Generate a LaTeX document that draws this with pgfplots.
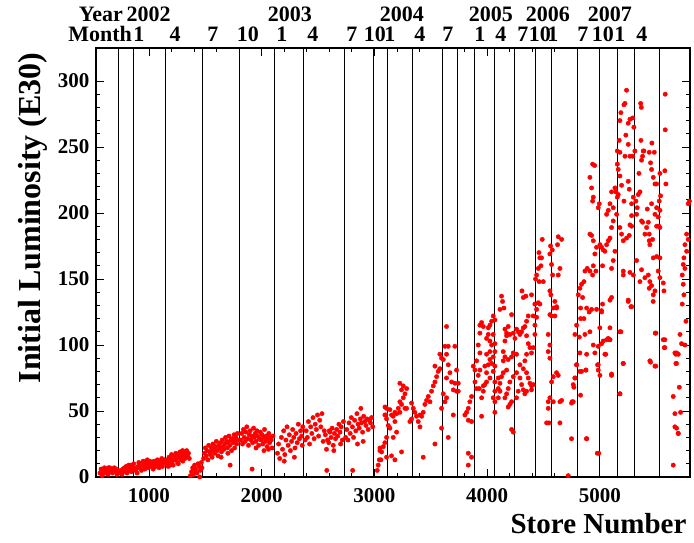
\documentclass[border=0pt]{standalone}
\usepackage{fontspec}
\setmainfont{Liberation Serif}
\usepackage{pgfplots}
\pgfplotsset{compat=1.18}

\newcommand{\tickfont}{\fontsize{21}{22}\selectfont\bfseries}
\newcommand{\toplab}{\fontsize{22}{22}\selectfont\bfseries}

\begin{document}
\begin{tikzpicture}
\begin{axis}[
    scale only axis,
    width=594pt, height=429pt,
    at={(0,0)}, anchor=south west,
    xmin=530, xmax=5800,
    ymin=0, ymax=325,
    xtick={1000,2000,3000,4000,5000},
    ytick={0,50,100,150,200,250,300},
    minor x tick num=4,
    minor y tick num=4,
    tick align=inside,
    major tick length=8pt,
    minor tick length=4pt,
    tick style={black, line width=0.8pt},
    axis line style={black, line width=1.1pt},
    scaled ticks=false,
    /pgf/number format/1000 sep={},
    /pgf/number format/assume math mode=true,
    ticklabel style={font=\tickfont},
    xticklabel style={yshift=-8pt},
    yticklabel style={xshift=-3pt},
    extra x ticks={728,864,1148,1477,1799,2112,2369,2733,2994,3114,3336,3606,3733,3888,4061,4238,4425,4571,4802,4993,5157,5308,5525},
    extra x tick labels={},
    extra x tick style={grid=major, major tick length=0pt},
    major grid style={black, line width=0.8pt},
    xlabel={Store Number},
    ylabel={Initial Luminosity (E30)},
    xlabel style={font=\fontsize{29}{29}\selectfont\bfseries, at={(rel axis cs:1,0)}, anchor=base east, yshift=-56pt},
    ylabel style={font=\fontsize{32}{32}\selectfont\bfseries, at={(rel axis cs:0,0.604)}, anchor=center, yshift=63pt},
    clip mode=individual,
]
\addplot[only marks, mark=*, mark size=2.2pt, color=red, mark options={fill=red, draw=red}] coordinates {
(565,3)(575,6)(585,1)(595,4)(605,7)(612,3)(620,5)(628,6)(636,2)(645,5)(652,7)(660,4)(668,6)(676,3)(684,5)(692,7)(700,4)(708,6)(716,2)(724,5)(590,5)(630,4)(670,5)(700,6)(640,7)
(745,3)(752,5)(760,2)(768,6)(775,4)(783,7)(790,5)(798,8)(805,3)(812,6)(820,9)(828,5)(835,7)(843,4)(850,8)(858,6)(865,10)(872,7)(880,5)(795,6)(815,8)(840,9)
(888,6)(895,3)(903,8)(910,11)(918,7)(925,9)(933,5)(940,10)(948,12)(955,8)(963,6)(970,11)(978,9)(985,13)(993,7)(1000,10)(1008,12)(1015,8)(1023,11)(1030,9)(1038,6)(1045,12)(1053,10)(1060,8)(1068,11)(1075,13)(1083,9)(1090,7)(1098,12)(1105,10)(1113,14)(1120,8)(1128,11)(1135,13)(920,10)(960,9)(1010,11)(1050,9)(1100,11)
(1155,10)(1162,13)(1170,8)(1178,15)(1185,11)(1193,14)(1200,17)(1208,12)(1215,9)(1223,16)(1230,13)(1238,18)(1245,14)(1253,11)(1260,17)(1268,15)(1275,19)(1283,13)(1290,16)(1298,20)(1305,18)(1313,15)(1320,19)(1328,17)(1335,20)(1343,16)(1350,18)(1358,14)(1190,9)(1260,10)(1300,12)(1320,14)
(1368,1)(1378,4)(1388,7)(1395,2)(1405,9)(1415,6)(1425,3)(1435,10)(1445,8)(1455,5)(1465,11)(1470,7)(1400,5)(1450,0)
(1485,14)(1492,18)(1500,22)(1508,16)(1515,20)(1523,13)(1530,24)(1538,19)(1545,17)(1553,22)(1560,15)(1568,25)(1575,21)(1583,18)(1590,23)(1598,27)(1605,20)(1613,16)(1620,24)(1628,22)(1635,26)(1643,19)(1650,28)(1658,23)(1665,21)(1673,25)(1680,30)(1688,27)(1695,22)(1703,26)(1710,31)(1718,24)(1725,28)(1733,20)(1740,29)(1748,26)(1755,32)(1763,27)(1770,30)(1778,25)(1785,33)(1793,28)(1560,20)(1640,15)(1700,18)(1760,22)(1720,9)
(1815,28)(1823,33)(1830,25)(1838,36)(1845,30)(1853,27)(1860,34)(1868,38)(1875,29)(1883,24)(1890,32)(1898,35)(1905,28)(1913,31)(1920,26)(1928,37)(1935,30)(1943,33)(1950,27)(1958,35)(1965,31)(1973,24)(1980,29)(1988,34)(1995,28)(2003,32)(2010,25)(2018,30)(2025,36)(2033,27)(2040,31)(2048,23)(2055,29)(2063,33)(2070,26)(2078,30)(2085,28)(2093,22)(2100,31)(1915,6)(1950,22)(2020,20)(2060,21)
(2140,18)(2150,25)(2160,14)(2175,30)(2185,21)(2195,35)(2205,17)(2215,28)(2225,38)(2235,24)(2245,32)(2255,20)(2265,27)(2275,36)(2285,30)(2295,22)(2305,33)(2315,26)(2325,40)(2335,29)(2345,35)(2355,31)(2365,38)(2200,12)(2290,15)(2360,24)
(2385,28)(2395,35)(2405,30)(2415,42)(2425,25)(2435,38)(2445,33)(2455,45)(2465,29)(2475,40)(2485,36)(2495,47)(2505,31)(2515,43)(2525,38)(2535,48)(2545,27)(2555,35)(2565,32)(2575,21)(2585,28)(2595,26)(2605,34)(2615,30)(2625,37)(2635,24)(2645,33)(2655,29)(2665,36)(2675,31)(2685,40)(2695,34)(2705,38)(2715,28)(2725,42)(2578,5)(2600,35)(2640,20)(2700,25)
(2745,30)(2755,36)(2765,28)(2775,41)(2785,33)(2795,45)(2805,38)(2815,30)(2825,43)(2835,35)(2845,48)(2855,40)(2865,37)(2875,44)(2885,41)(2895,34)(2905,46)(2915,42)(2925,39)(2935,44)(2945,36)(2955,43)(2965,41)(2975,45)(2985,38)(2807,5)(2850,25)(2900,27)(2880,52)
(3034,9)(3043,13)(3049,20)(3079,23)(3094,53)(3102,47)(3058,13)(3025,5)
(3049,22)(3064,19)(3093,26)(3108,15)(3152,16)(3182,13)(3241,19)(3108,30)(3167,30)(3197,34)(3138,37)(3123,39)(3182,42)(3167,46)(3197,48)(3212,52)(3241,55)(3226,57)(3256,60)(3271,63)(3241,66)(3256,69)(3226,71)(3286,67)(3271,52)(3108,52)(3138,51)(3182,49)(3093,47)(3108,44)(3152,47)(3226,49)(3286,52)(3330,56)(3345,52)(3359,49)(3330,44)(3315,42)(3374,46)(3404,47)(3389,42)(3404,38)(3419,46)(3433,49)(3448,55)(3463,58)(3493,57)(3478,61)(3507,65)(3522,69)(3537,72)(3552,76)(3566,80)(3537,84)(3581,82)(3596,90)(3581,93)(3611,89)(3640,93)(3655,85)(3670,79)(3640,75)(3685,72)(3700,66)(3714,71)(3729,65)(3640,60)(3626,57)(3596,52)(3611,63)(3655,99)(3626,99)(3640,114)(3714,99)(3729,81)(3744,71)(3744,65)(3596,37)(3655,30)(3537,25)(3433,15)(3700,47)
(3803,47)(3818,49)(3833,52)(3847,57)(3862,61)(3833,43)(3862,42)(3877,84)(3892,81)(3907,88)(3892,72)(3907,67)(3921,77)(3936,81)(3936,94)(3921,100)(3936,109)(3936,115)(3951,117)(3966,114)(3930,67)(3951,60)(3966,69)(3966,65)(3980,70)(3995,72)(3995,79)(3980,84)(4010,85)(4025,89)(3995,93)(4025,95)(4040,100)(4025,103)(4010,108)(3995,105)(4010,113)(4025,115)(4040,118)(4054,122)(4069,119)(4069,101)(4054,91)(4040,86)(4069,84)(4054,80)(4025,75)(4069,72)(4069,65)(4054,60)(4069,57)(4069,49)(4099,67)(4099,75)(4069,95)(4054,108)(3862,15)(3833,18)(3951,46)(3833,9)
(4099,60)(4114,65)(4114,71)(4128,76)(4143,79)(4143,88)(4158,91)(4143,95)(4158,103)(4173,107)(4158,112)(4173,109)(4187,114)(4202,108)(4217,123)(4232,109)(4247,105)(4261,112)(4276,110)(4291,108)(4306,110)(4321,113)(4335,114)(4350,118)(4365,122)(4350,107)(4365,101)(4380,98)(4394,94)(4409,98)(4424,108)(4424,115)(4409,122)(4439,127)(4424,131)(4454,132)(4468,131)(4439,121)(4350,93)(4335,88)(4321,82)(4291,85)(4261,93)(4232,94)(4217,91)(4187,89)(4173,81)(4202,72)(4187,67)(4173,63)(4158,60)(4202,55)(4187,53)(4217,57)(4232,76)(4261,79)(4291,75)(4306,70)(4321,66)(4335,63)(4350,65)(4380,71)(4394,69)(4409,70)(4365,75)(4350,79)(4232,34)(4217,36)(4261,60)(4276,65)(4394,66)
(4542,57)(4528,41)(4646,41)(4542,52)(4572,72)(4587,76)(4557,90)(4542,95)(4557,100)(4542,108)(4557,123)(4572,122)(4601,133)(4616,129)(4587,128)(4601,122)(4587,57)(4616,79)(4631,77)(4646,57)(4661,58)(4557,60)(4548,41)
(4128,137)(4137,133)(4149,128)(4114,127)(4309,141)(4344,137)(4321,136)(4394,138)(4430,150)(4439,153)(4454,158)(4468,166)(4460,170)(4483,166)(4489,180)(4498,148)(4462,148)(4477,160)(4563,175)(4578,172)(4557,169)(4572,161)(4581,153)(4557,141)(4566,138)(4631,182)(4661,180)(4625,176)(4646,158)(4631,153)(4616,128)
(4749,29)(4755,57)(4764,70)(4779,75)(4794,85)(4823,94)(4838,80)(4876,81)(4882,29)(4720,1)
(5237,293)(5223,283)(5214,282)(5187,276)(5178,270)(5267,271)(5291,272)(5252,268)(5302,265)(5231,259)(5172,255)(5155,247)(5178,246)(5252,252)(5223,243)(5267,243)(5291,243)(5311,247)(5365,255)(5362,283)(5368,280)(5462,253)(5483,246)(5580,290)(5580,263)
(5155,237)(5163,233)(5178,228)(5134,219)(5143,216)(5163,214)(5155,212)(5214,209)(5193,221)(5252,224)(5261,218)(5282,207)(5297,212)(5320,209)(5341,214)(5356,216)(5347,230)(5370,240)(5385,247)(5379,243)(5391,247)(5438,246)(5450,238)(5459,233)(5474,227)(5489,222)(5504,222)(5533,230)(5577,232)(5586,222)(5539,213)(5527,209)(5504,204)(5533,202)(5518,197)(5524,190)(5533,189)(5489,199)(5459,207)(5421,203)(5430,193)(5415,189)(5400,184)(5379,193)(5370,194)(5326,199)(5332,204)(5282,198)(5267,191)(5282,190)(5261,183)(5237,181)(5208,179)(5193,184)(5178,189)(5149,199)(5119,194)(5104,189)(5090,181)(5075,179)(5060,176)(5045,171)(5030,172)(5016,174)(5001,176)(4971,174)(4956,169)(4942,179)(4927,183)(4912,184)(5104,216)(5090,207)(5119,204)(5075,202)(5060,199)(4995,207)(4986,204)(4942,212)(4936,209)(4927,219)(4912,227)(4936,237)(4954,236)
(5119,164)(5134,171)(5104,158)(5024,160)(4965,156)(4942,160)(4912,156)(4936,153)(4888,158)(4868,156)(4859,148)(4838,146)(4823,143)(4809,138)(4829,128)(4847,136)(4859,120)(4883,128)(4906,125)(4927,127)(4971,127)(5016,125)(5024,131)(5090,134)(5104,136)(5208,156)(5208,153)(5267,155)(5297,153)(5326,164)(5370,157)(5356,148)(5400,151)(5430,153)(5444,148)(5438,143)(5459,145)(5474,138)(5489,141)(5518,156)(5533,151)(5563,147)(5569,141)(5533,166)(5504,167)(5474,166)(5444,176)(5438,179)(5468,180)(5504,190)(5438,184)
(4794,115)(4779,108)(4818,106)(4829,120)(4868,108)(4912,110)(4942,100)(4956,94)(4986,99)(5016,101)(5045,93)(5060,104)(5090,113)(5090,104)(5104,77)(5001,77)(4986,85)(4883,93)(4877,81)(4823,80)(4779,75)(4794,85)(4770,68)(4764,57)(4749,56)(4829,62)(4883,29)(4977,18)(5208,86)(5178,63)(5187,110)(5252,134)(5276,129)(5450,87)(5489,84)(5498,109)(5577,104)(5572,98)
(4980,85)(4986,81)(4991,18)(5000,113)(5015,126)(5030,103)(5053,93)(5074,105)(5089,104)(5104,78)(5178,110)(5178,63)(5207,86)(5252,133)(5282,129)(5444,88)(5473,133)(5491,109)(5497,84)(5562,104)(5577,98)
(5784,207)(5795,209)(5770,184)(5784,180)(5755,176)(5770,171)(5746,166)(5740,161)(5755,158)(5731,153)(5740,146)(5746,138)(5731,131)(5764,118)(5711,108)(5725,101)(5755,100)(5666,94)(5681,94)(5696,93)(5675,86)(5705,68)(5651,61)(5666,48)(5666,38)(5681,37)(5696,33)(5651,9)(5716,49)(5674,93)(5680,86)(5695,33)
};
% date labels above the frame
\node[anchor=base east, font=\toplab] at ([yshift=26pt]axis cs:800,325) {Year};
\node[anchor=base east, font=\toplab] at ([yshift=6pt]axis cs:880,325) {Month};
\node[anchor=base, font=\toplab] at ([yshift=26pt]axis cs:996,325) {2002};
\node[anchor=base, font=\toplab] at ([yshift=26pt]axis cs:2251,325) {2003};
\node[anchor=base, font=\toplab] at ([yshift=26pt]axis cs:3244,325) {2004};
\node[anchor=base, font=\toplab] at ([yshift=26pt]axis cs:4033,325) {2005};
\node[anchor=base, font=\toplab] at ([yshift=26pt]axis cs:4539,325) {2006};
\node[anchor=base, font=\toplab] at ([yshift=26pt]axis cs:5089,325) {2007};
\node[anchor=base, font=\toplab] at ([yshift=6pt]axis cs:911,325) {1};
\node[anchor=base, font=\toplab] at ([yshift=6pt]axis cs:1231,325) {4};
\node[anchor=base, font=\toplab] at ([yshift=6pt]axis cs:1568,325) {7};
\node[anchor=base, font=\toplab] at ([yshift=6pt]axis cs:1878,325) {10};
\node[anchor=base, font=\toplab] at ([yshift=6pt]axis cs:2180,325) {1};
\node[anchor=base, font=\toplab] at ([yshift=6pt]axis cs:2455,325) {4};
\node[anchor=base, font=\toplab] at ([yshift=6pt]axis cs:2800,325) {7};
\node[anchor=base, font=\toplab] at ([yshift=6pt]axis cs:3004,325) {10};
\node[anchor=base, font=\toplab] at ([yshift=6pt]axis cs:3137,325) {1};
\node[anchor=base, font=\toplab] at ([yshift=6pt]axis cs:3404,325) {4};
\node[anchor=base, font=\toplab] at ([yshift=6pt]axis cs:3652,325) {7};
\node[anchor=base, font=\toplab] at ([yshift=6pt]axis cs:3936,325) {1};
\node[anchor=base, font=\toplab] at ([yshift=6pt]axis cs:4122,325) {4};
\node[anchor=base, font=\toplab] at ([yshift=6pt]axis cs:4317,325) {7};
\node[anchor=base, font=\toplab] at ([yshift=6pt]axis cs:4468,325) {10};
\node[anchor=base, font=\toplab] at ([yshift=6pt]axis cs:4583,325) {1};
\node[anchor=base, font=\toplab] at ([yshift=6pt]axis cs:4849,325) {7};
\node[anchor=base, font=\toplab] at ([yshift=6pt]axis cs:5027,325) {10};
\node[anchor=base, font=\toplab] at ([yshift=6pt]axis cs:5177,325) {1};
\node[anchor=base, font=\toplab] at ([yshift=6pt]axis cs:5372,325) {4};
\end{axis}
\pgfresetboundingbox
\path[use as bounding box] (-96pt,-65pt) rectangle (598pt,477pt);
\end{tikzpicture}
\end{document}
